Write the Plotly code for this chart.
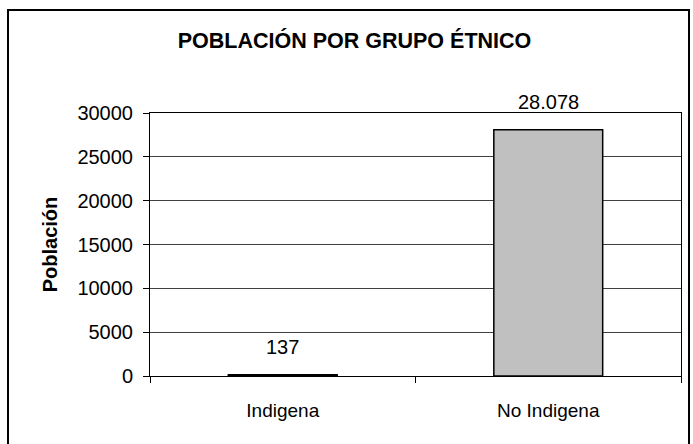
import plotly.graph_objects as go

categories = ["Indigena", "No Indigena"]
values = [137, 28078]
y_ticks = [0, 5000, 10000, 15000, 20000, 25000, 30000]

title_text = "POBLACIÓN POR GRUPO ÉTNICO"
y_title = "Población"

W, H = 693, 444
L, R, T, B = 150, 12, 113, 68
pw, ph = W - L - R, H - T - B

FONT = "Liberation Sans, Arial, sans-serif"

fig = go.Figure()
fig.add_trace(go.Bar(
    x=categories, y=values,
    marker=dict(color="#C0C0C0", line=dict(color="#000000", width=1.5)),
    width=0.41,
    hoverinfo="skip",
))

annotations = []
for c, v in zip(categories, values):
    annotations.append(dict(
        x=c, y=v, xref="x", yref="y",
        text=f"{v:,}".replace(",", "."),
        showarrow=False, yanchor="bottom", yshift=15,
        font=dict(family=FONT, size=20, color="#000"),
    ))

def px_to_paper_x(px):
    return (px - L) / pw

def px_to_paper_y(py):
    return (H - B - py) / ph

shapes = [dict(
    type="rect", xref="paper", yref="paper",
    x0=px_to_paper_x(8), x1=px_to_paper_x(689),
    y0=px_to_paper_y(10), y1=px_to_paper_y(460),
    line=dict(color="#000000", width=2), fillcolor="rgba(0,0,0,0)",
    layer="below",
)]

fig.update_layout(
    width=W, height=H,
    margin=dict(l=L, r=R, t=T, b=B),
    paper_bgcolor="white", plot_bgcolor="white",
    showlegend=False,
    title=dict(text=f"<b>{title_text}</b>", x=(177 + 532) / 2 / W, xanchor="center",
               y=1 - 40 / H, yanchor="middle", yref="container",
               font=dict(family=FONT, size=21.5, color="#000")),
    font=dict(family=FONT, size=20, color="#000"),
    annotations=annotations,
    shapes=shapes,
)

fig.update_xaxes(
    type="category",
    showline=True, linecolor="#000", linewidth=1, mirror=True,
    ticks="outside", tickson="boundaries", ticklen=6, tickcolor="#000",
    ticklabelstandoff=17,
    tickfont=dict(family=FONT, size=19, color="#000"),
    showgrid=False,
)
fig.update_yaxes(
    range=[0, 30000], tickvals=y_ticks, tickformat="d",
    showline=True, linecolor="#000", linewidth=1, mirror=True,
    ticks="outside", ticklen=6, tickcolor="#000",
    ticklabelstandoff=6,
    tickfont=dict(family=FONT, size=20, color="#000"),
    showgrid=True, gridcolor="#404040", gridwidth=1,
    zeroline=False,
    title=dict(text=f"<b>{y_title}</b>", font=dict(family=FONT, size=20, color="#000"), standoff=14),
)

fig.write_html(
    "out.html",
    config={"displayModeBar": False},
    post_script="document.body.style.margin='0';document.body.style.overflow='hidden';",
)
